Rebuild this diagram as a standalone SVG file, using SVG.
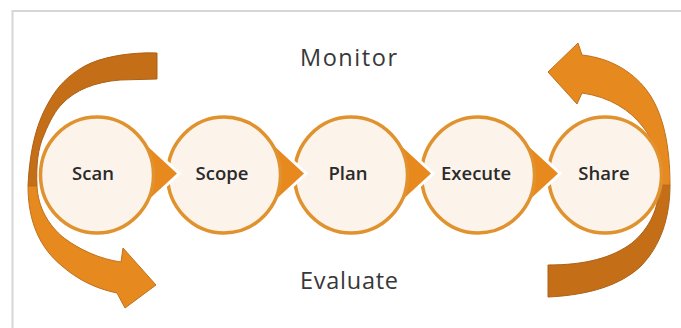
<svg xmlns="http://www.w3.org/2000/svg" xmlns:xlink="http://www.w3.org/1999/xlink" width="681" height="328" viewBox="0 0 681 328">
  <style>
    .frame { fill: none; stroke: #d6d6d6; stroke-width: 2; }
    .bubble { fill: #fcf3ea; stroke: #e0922e; stroke-width: 3.5; }
    .pointer { fill: #e8891e; stroke: #ffffff; stroke-width: 6; stroke-linejoin: miter; paint-order: stroke; }
    .label { font-family: "Open Sans", "Liberation Sans", sans-serif; font-size: 18.5px; font-weight: 600; fill: #2a2a2a; text-anchor: middle; }
    .caption { font-family: "Open Sans", "Liberation Sans", sans-serif; font-size: 23.5px; fill: #383838; }
    .loop-back { fill: #c46f17; stroke: #ad6119; stroke-width: 1; }
    .loop-front { fill: #e6891f; stroke: #c0701b; stroke-width: 1; }
  </style>
  <defs>
    <!-- pointed tip on the right side of each stage bubble -->
    <polygon id="ptr" points="35,132 80,173.5 35,215"/>
  </defs>

  <rect width="681" height="328" fill="#ffffff"/>
  <path class="frame" d="M681,11 H12.5 V328"/>

  <!-- looping arrows around the first and last stages -->
  <g id="connectors">
    <g id="loop-left">
      <path class="loop-back" d="M157,53 C130,52 100,57 83,67 C68,76 58,86 50,100 C38,120 30,145 28,186 L37,186 C36,165 38,148 44,135 C50,120 56,110 62,104 C75,90 95,82 120,80 L157,79 Z"/>
      <path class="loop-front" d="M28,186 C28,222 40,248 62,266 C78,280 97,289 117,293 L125,308 L156,285 L123,248 L121,262 C100,259 80,250 64,238 C48,225 38,207 37,186 Z"/>
    </g>
    <g id="loop-right">
      <path class="loop-back" d="M670,185 C670,215 662,245 640,267 C620,285 590,295 548,297 L548,265 C585,265 612,258 632,243 C650,228 659,208 659,185 Z"/>
      <path class="loop-front" d="M548,72 L578,43 L582,55 C610,58 635,72 650,95 C663,115 670,145 670,185 L659,185 C659,160 654,140 643,127 C630,110 610,97 582,93 L577,104 Z"/>
    </g>
  </g>

  <!-- stages, drawn right to left so each tip overlaps the next bubble -->
  <g id="share">
    <ellipse class="bubble" cx="605" cy="175" rx="56.5" ry="58"/>
    <text class="label" x="604" y="180">Share</text>
  </g>
  <g id="execute">
    <use xlink:href="#ptr" class="pointer" x="478"/>
    <ellipse class="bubble" cx="478" cy="175" rx="56.5" ry="58"/>
    <text class="label" x="476" y="180">Execute</text>
  </g>
  <g id="plan">
    <use xlink:href="#ptr" class="pointer" x="351"/>
    <ellipse class="bubble" cx="351" cy="175" rx="56.5" ry="58"/>
    <text class="label" x="348" y="180">Plan</text>
  </g>
  <g id="scope">
    <use xlink:href="#ptr" class="pointer" x="224"/>
    <ellipse class="bubble" cx="224" cy="175" rx="56.5" ry="58"/>
    <text class="label" x="222" y="180">Scope</text>
  </g>
  <g id="scan">
    <use xlink:href="#ptr" class="pointer" x="97"/>
    <ellipse class="bubble" cx="97" cy="175" rx="56.5" ry="58"/>
    <text class="label" x="93" y="180">Scan</text>
  </g>

  <g id="captions">
    <text class="caption" x="300" y="66" textLength="97" lengthAdjust="spacing">Monitor</text>
    <text class="caption" x="300" y="289" textLength="98" lengthAdjust="spacing">Evaluate</text>
  </g>
</svg>
